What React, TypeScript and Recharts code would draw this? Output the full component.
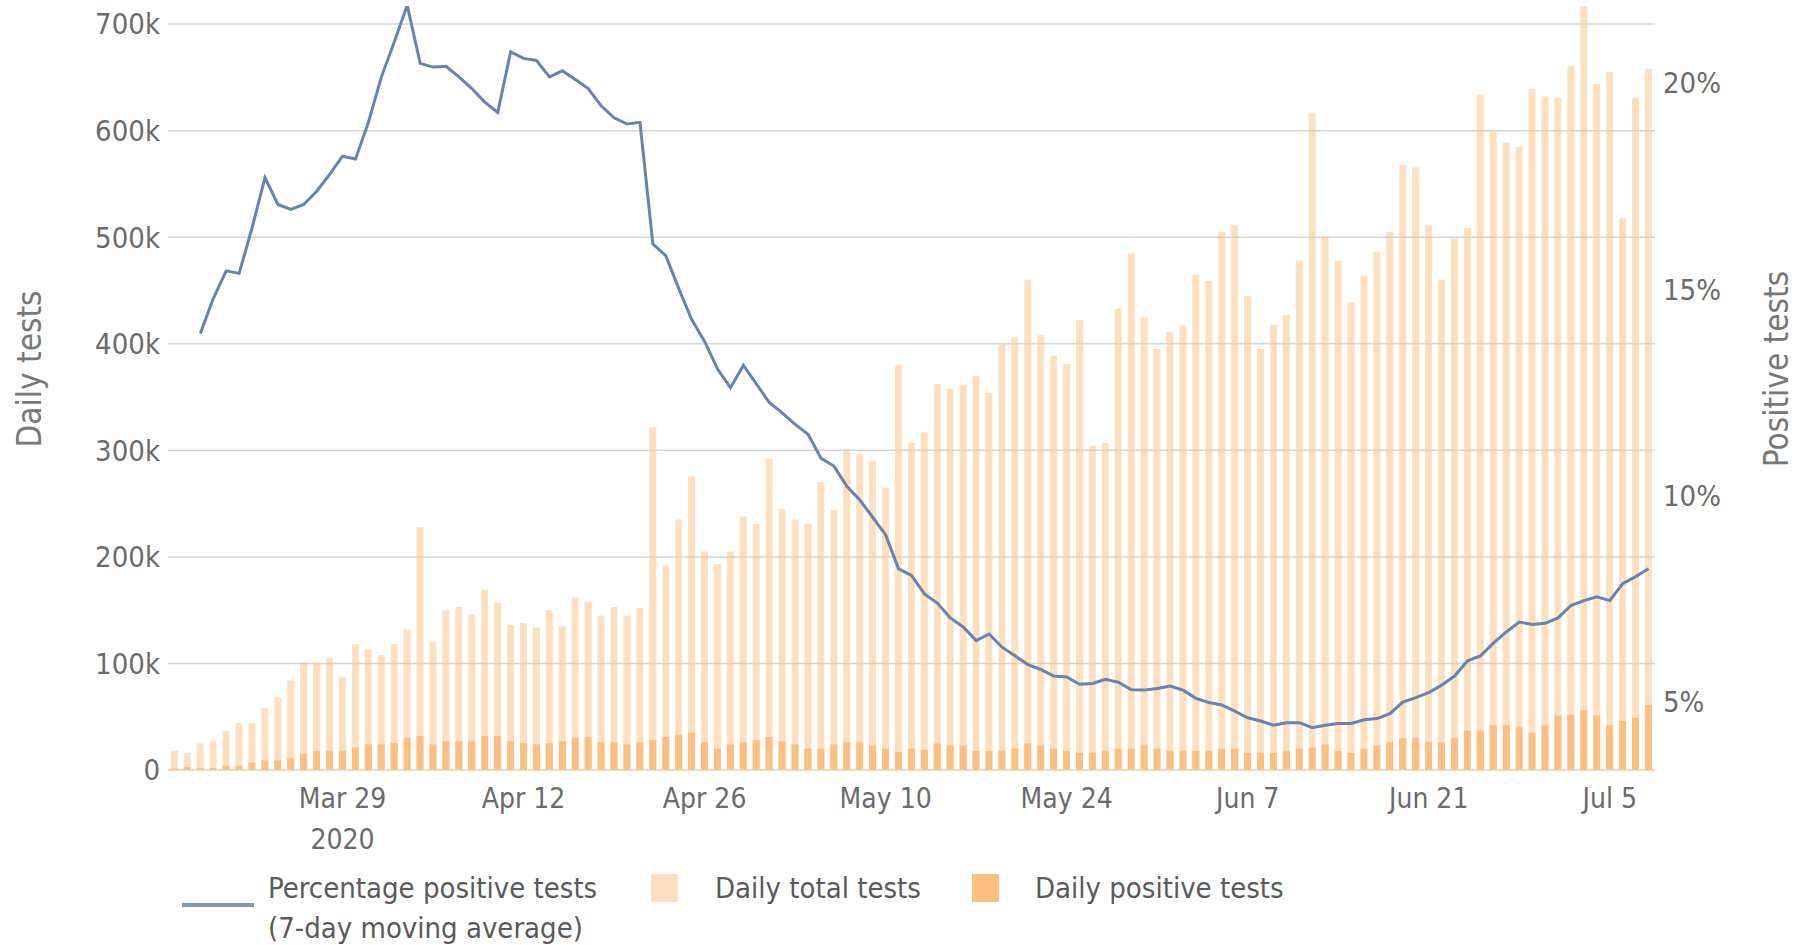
import React from "react";
import { ComposedChart, Bar, Line, XAxis, YAxis, CartesianGrid } from "recharts";

// daily figures from Mar 16 to Jul 8, 2020
const startDay = { year: 2020, month: 2, day: 16 };
const monthNames = ["Jan", "Feb", "Mar", "Apr", "May", "Jun", "Jul", "Aug", "Sep", "Oct", "Nov", "Dec"];

// daily total tests, thousands
const totalTests = [
    18, 16, 25, 27, 37, 44, 44, 58, 68, 84, 101, 101, 105, 87, 118, 113, 108, 118, 132, 228,
    120, 150, 153, 146, 169, 157, 136, 138, 134, 150, 135, 162, 158, 145, 153, 145, 152, 322, 192, 235,
    275, 205, 193, 205, 238, 231, 292, 245, 235, 231, 270, 244, 300, 296, 290, 265, 380, 307, 317, 362,
    358, 361, 370, 354, 399, 406, 460, 408, 389, 381, 422, 304, 307, 433, 485, 425, 395, 411, 417, 465,
    459, 505, 511, 445, 395, 418, 427, 478, 616, 500, 478, 439, 464, 486, 505, 568, 566, 511, 460, 499,
    509, 634, 599, 589, 585, 639, 632, 631, 661, 717, 644, 655, 518, 631, 658,
];

// daily positive tests, thousands
const positiveTests = [
    1.5, 3, 2, 2, 4, 4, 7, 9, 9, 11, 15, 18, 18, 18, 21, 24, 24, 25.5, 30, 32,
    24, 27, 27, 27, 32, 32, 27, 25.5, 24, 25, 27, 30, 31, 26, 26, 24, 26, 28, 31, 33,
    35, 26, 20, 24, 26, 28, 31, 27, 24, 20, 20, 24, 26, 26, 23, 20, 17, 20, 19, 25,
    23, 23, 18, 18, 18, 20, 25, 23, 20, 18, 16, 16, 18, 20, 20, 23, 20, 18, 18, 18,
    18, 20, 20, 16, 16, 16, 18, 20, 21, 24, 18, 16, 20, 23, 26, 30, 30, 26, 26, 30,
    37, 37, 42, 42, 40, 35, 42, 51, 52, 56, 51, 42, 46, 49, 61,
];

// percentage positive, 7-day moving average
const pctPositive: (number | null)[] = [
    null, null, 13.93, 14.78, 15.45, 15.39, 16.49, 17.71, 17.06, 16.94, 17.06, 17.38, 17.79, 18.23, 18.16, 19.05, 20.15, 21.0, 21.89, 20.48,
    20.39, 20.41, 20.15, 19.87, 19.54, 19.29, 20.76, 20.6, 20.55, 20.15, 20.3, 20.09, 19.87, 19.45, 19.16, 19.01, 19.05, 16.1, 15.82, 15.02,
    14.27, 13.74, 13.07, 12.62, 13.16, 12.71, 12.26, 12.01, 11.73, 11.49, 10.91, 10.72, 10.23, 9.9, 9.48, 9.05, 8.23, 8.07, 7.62, 7.4,
    7.04, 6.82, 6.49, 6.65, 6.33, 6.12, 5.91, 5.79, 5.63, 5.61, 5.43, 5.45, 5.55, 5.48, 5.3, 5.29, 5.33, 5.39, 5.29, 5.09,
    4.99, 4.93, 4.78, 4.62, 4.54, 4.44, 4.5, 4.5, 4.38, 4.44, 4.48, 4.48, 4.57, 4.6, 4.72, 5.0, 5.11, 5.23, 5.41, 5.63,
    6.0, 6.12, 6.43, 6.7, 6.94, 6.88, 6.91, 7.04, 7.34, 7.46, 7.55, 7.46, 7.87, 8.04, 8.23,
];

const xTickLabels = ["Mar 29", "Apr 12", "Apr 26", "May 10", "May 24", "Jun 7", "Jun 21", "Jul 5"];
const yearLabel = "2020";
const leftTicks = [0, 100000, 200000, 300000, 400000, 500000, 600000, 700000];
const rightTicks = [5, 10, 15, 20];

const FONT = "'DejaVu Sans Condensed', 'DejaVu Sans', sans-serif";
const TEXT = "#6b6b6b";

function dayLabel(i: number): string {
    const d = new Date(Date.UTC(startDay.year, startDay.month, startDay.day + i));
    return `${monthNames[d.getUTCMonth()]} ${d.getUTCDate()}`;
}

const chartData = totalTests.map((t, i) => ({
    date: dayLabel(i),
    total: t * 1000,
    positive: positiveTests[i] * 1000,
    pct: pctPositive[i],
}));

function DateTick(props: any) {
    const { x, y, payload } = props;
    if (!xTickLabels.includes(payload.value)) return <g />;
    const style = { fontFamily: FONT, fontStretch: "condensed" as const, fontSize: 28 };
    return (
        <g>
            <text x={x} y={y} dy={30} textAnchor="middle" fill={TEXT} style={style}>{payload.value}</text>
            {payload.value === xTickLabels[0] && (
                <text x={x} y={y} dy={71} textAnchor="middle" fill={TEXT} style={style}>{yearLabel}</text>
            )}
        </g>
    );
}

function AxisTitle({ text, cx, cy }: { text: string; cx: number; cy: number }) {
    return (
        <text
            x={cx}
            y={cy}
            transform={`rotate(-90 ${cx} ${cy})`}
            textAnchor="middle"
            dominantBaseline="central"
            fill="#777"
            style={{ fontFamily: FONT, fontStretch: "condensed", fontSize: 33 }}
        >
            {text}
        </text>
    );
}

const legendText: React.CSSProperties = {
    position: "absolute",
    fontFamily: FONT,
    fontStretch: "condensed",
    fontSize: 29,
    lineHeight: "40px",
    color: "#5a5a5a",
    whiteSpace: "nowrap",
};

export default function App() {
    return (
        <div style={{ position: "absolute", left: 0, top: 0, width: 1808, height: 945, background: "#fff" }}>
            <ComposedChart
                width={1808}
                height={945}
                data={chartData}
                margin={{ top: 6, right: 0, left: 0, bottom: 95 }}
                barCategoryGap="22%"
            >
                <CartesianGrid
                    xAxisId="main"
                    yAxisId="left"
                    vertical={false}
                    horizontalValues={leftTicks}
                    stroke="#d6d6d6"
                    strokeWidth={1.5}
                />
                <XAxis
                    xAxisId="main"
                    dataKey="date"
                    height={80}
                    interval={0}
                    tickLine={false}
                    axisLine={{ stroke: "#fcd3a9", strokeDasharray: "6 4", strokeWidth: 1.5 }}
                    tick={<DateTick />}
                />
                <XAxis xAxisId="pos" dataKey="date" hide />
                <YAxis
                    yAxisId="left"
                    width={168}
                    domain={[0, 717000]}
                    allowDataOverflow
                    ticks={leftTicks}
                    tickFormatter={(v: number) => (v === 0 ? "0" : `${v / 1000}k`)}
                    axisLine={false}
                    tickLine={false}
                    tick={{ fill: TEXT, fontSize: 29, fontFamily: FONT, fontStretch: "condensed" }}
                    label={{ content: () => <AxisTitle text="Daily tests" cx={29} cy={369} /> }}
                />
                <YAxis
                    yAxisId="right"
                    orientation="right"
                    width={153}
                    domain={[3.354, 21.87]}
                    allowDataOverflow
                    ticks={rightTicks}
                    tickFormatter={(v: number) => `${v}%`}
                    axisLine={false}
                    tickLine={false}
                    tick={{ fill: TEXT, fontSize: 29, fontFamily: FONT, fontStretch: "condensed", textAnchor: "start" }}
                    label={{ content: () => <AxisTitle text="Positive tests" cx={1776} cy={369} /> }}
                />
                <Bar xAxisId="main" yAxisId="left" dataKey="total" fill="#fdbf7f" fillOpacity={0.5} isAnimationActive={false} />
                <Bar xAxisId="pos" yAxisId="left" dataKey="positive" fill="#fdbf7f" isAnimationActive={false} />
                <Line
                    xAxisId="main"
                    yAxisId="right"
                    type="linear"
                    dataKey="pct"
                    stroke="#6783b2"
                    strokeWidth={3}
                    dot={false}
                    activeDot={false}
                    isAnimationActive={false}
                />
            </ComposedChart>

            {/* legend */}
            <div style={{ position: "absolute", left: 182, top: 903, width: 72, height: 4, background: "#8197be" }} />
            <div style={{ ...legendText, left: 268, top: 868 }}>
                Percentage positive tests
                <br />
                (7-day moving average)
            </div>
            <div style={{ position: "absolute", left: 651, top: 874, width: 27, height: 28, background: "#fee0c0" }} />
            <div style={{ ...legendText, left: 715, top: 868 }}>Daily total tests</div>
            <div style={{ position: "absolute", left: 972, top: 874, width: 27, height: 28, background: "#fdc07f" }} />
            <div style={{ ...legendText, left: 1035, top: 868 }}>Daily positive tests</div>
        </div>
    );
}
